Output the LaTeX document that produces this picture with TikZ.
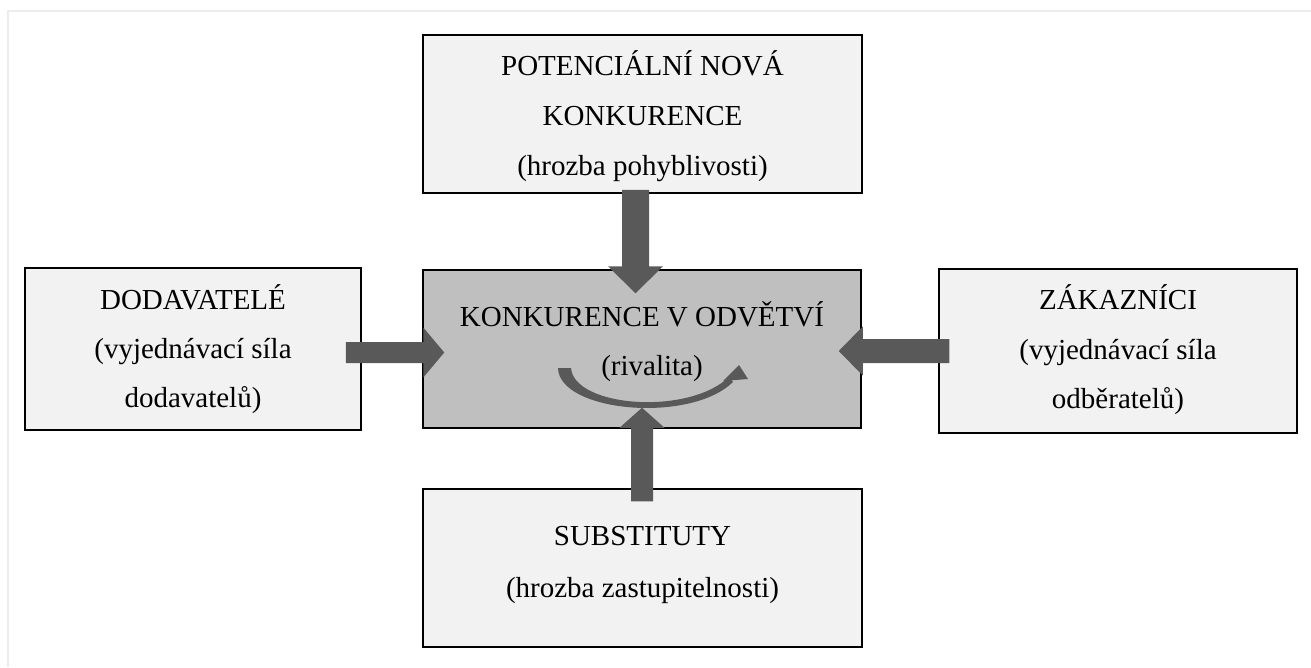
\documentclass[tikz,border=0pt]{standalone}
\usepackage{fontspec}
\setmainfont{Liberation Serif}
\usetikzlibrary{calc}
\definecolor{boxfill}{HTML}{F2F2F2}
\definecolor{midfill}{HTML}{BFBFBF}
\definecolor{arrowgray}{HTML}{595959}
\definecolor{framegray}{HTML}{EDEDED}
% fat block arrow: #1 from, #2 to (tip), #3 shaft half width, #4 head half width, #5 head length
\newcommand\fatarrow[5]{%
  \coordinate (fa-hb) at ($(#2)!#5!(#1)$);
  \fill[arrowfill] ($(#1)!#3!90:(#2)$) -- ($(fa-hb)!#3!90:(#2)$) -- ($(fa-hb)!#4!90:(#2)$)
    -- (#2) -- ($(fa-hb)!#4!-90:(#2)$) -- ($(fa-hb)!#3!-90:(#2)$) -- ($(#1)!#3!-90:(#2)$) -- cycle;}
\begin{document}
\begin{tikzpicture}[x=1pt,y=-1pt,
  forcebox/.style={draw=black, line width=1.5pt, fill=boxfill, rectangle, inner sep=0pt},
  corebox/.style={forcebox, fill=midfill},
  arrowfill/.style={fill=arrowgray},
  txt/.style={anchor=base, inner sep=0pt, font=\fontsize{29}{35}\selectfont}]
\useasboundingbox (0,0) rectangle (1311,667);
% faint frame
\draw[framegray, line width=2pt] (7.5,667) -- (7.5,10.5) -- (1311,10.5);
% boxes
\node[forcebox, minimum width=439pt, minimum height=158pt] (ptop) at (642.5,114) {};
\node[corebox, minimum width=438pt, minimum height=158pt] (rival) at (642,349) {};
\node[forcebox, minimum width=336pt, minimum height=162pt] (dod) at (193,349) {};
\node[forcebox, minimum width=358pt, minimum height=164pt] (zak) at (1118,351) {};
\node[forcebox, minimum width=439pt, minimum height=158pt] (subst) at (642.5,568) {};
% arrow end points
\coordinate (aT1) at ($(ptop.south)+(-7,-4)$);
\coordinate (aT2) at ($(rival.north)+(-6.5,24)$);
\coordinate (aB1) at ($(subst.north)+(-0.5,13)$);
\coordinate (aB2) at ($(rival.south)+(0,-21)$);
\coordinate (aL1) at ($(dod.east)+(-16,3.5)$);
\coordinate (aL2) at ($(rival.west)+(22,3.5)$);
\coordinate (aR1) at ($(zak.west)+(11,0)$);
\coordinate (aR2) at ($(rival.east)+(-23,2)$);
\fatarrow{aT1}{aT2}{13.5pt}{27.5pt}{27pt}
\fatarrow{aB1}{aB2}{11pt}{22.5pt}{20pt}
\fatarrow{aL1}{aL2}{10.5pt}{25pt}{21pt}
\fatarrow{aR1}{aR2}{12pt}{24.5pt}{24pt}
% rivalry curved arrow
\fill[arrowfill] (558,368) .. controls (559,412) and (690,424) .. (733,382)
  -- (729,377) .. controls (688,416) and (574,407) .. (571,368) -- cycle;
\fill[arrowfill] (723,381) -- (739,365) -- (748,379) -- cycle;
% texts
\node[txt] (ptop1) at (642.5,75) {POTENCIÁLNÍ NOVÁ};
\node[txt] (ptop2) at (642.5,125) {KONKURENCE};
\node[txt] (ptop3) at (642.5,175) {(hrozba pohyblivosti)};
\node[txt] (rival1) at (642,326) {KONKURENCE V ODVĚTVÍ};
\node[txt] (rival2) at (652,375) {(rivalita)};
\node[txt] (dod1) at (193,309) {DODAVATELÉ};
\node[txt] (dod2) at (193,358) {(vyjednávací síla};
\node[txt] (dod3) at (193,407) {dodavatelů)};
\node[txt] (zak1) at (1118,309) {ZÁKAZNÍCI};
\node[txt] (zak2) at (1118,359) {(vyjednávací síla};
\node[txt] (zak3) at (1118,408) {odběratelů)};
\node[txt] (subst1) at (642.5,545) {SUBSTITUTY};
\node[txt] (subst2) at (642.5,597) {(hrozba zastupitelnosti)};
\end{tikzpicture}
\end{document}
